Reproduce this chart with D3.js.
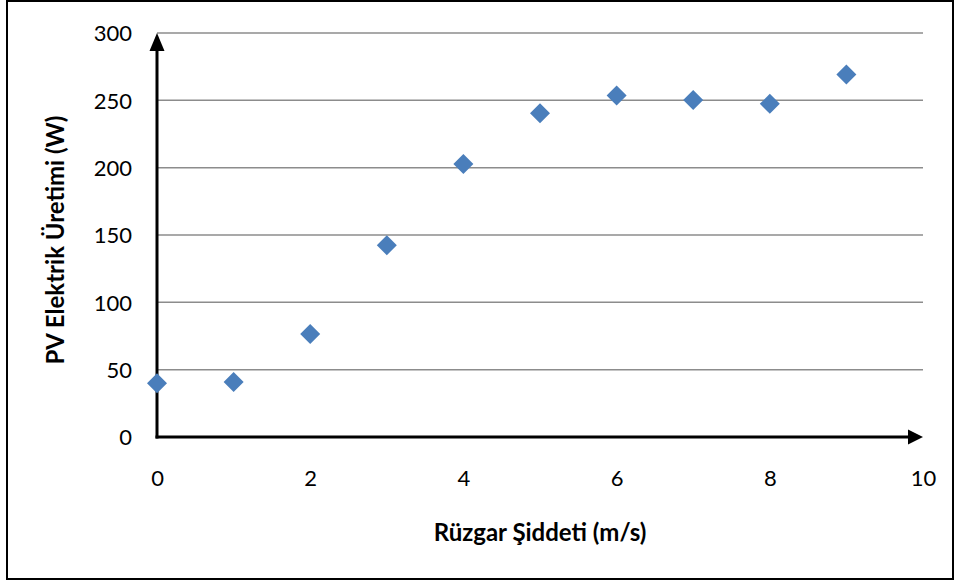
<!DOCTYPE html>
<html>
<head>
<meta charset="utf-8">
<script src="https://cdn.jsdelivr.net/npm/d3@7"></script>
<style>
  body { margin: 0; background: #fff; }
  text { font-family: Lato, "Open Sans", sans-serif; fill: #000; }
</style>
</head>
<body>
<script>
var width = 955;
var height = 581;
var margin = {top: 33, right: 32, bottom: 144, left: 157};
var w = width - margin.left - margin.right;
var h = height - margin.top - margin.bottom;

// wind speed (m/s) and PV output (W)
var windSpeed = [0, 1, 2, 3, 4, 5, 6, 7, 8, 9];
var pvOutput = [40, 40.8, 76.5, 142.3, 202.8, 240.5, 253.6, 250.3, 247.4, 269.2];
var xTicks = [0, 2, 4, 6, 8, 10];
var yTicks = [0, 50, 100, 150, 200, 250, 300];

var svg = d3.select("body").append("svg")
    .attr("width", width)
    .attr("height", height);

// outer frame
svg.append("rect")
    .attr("x", 7).attr("y", 1)
    .attr("width", 946).attr("height", 578)
    .attr("fill", "none")
    .attr("stroke", "#000")
    .attr("stroke-width", 2);

var chart = svg.append("g")
    .attr("transform", "translate(" + margin.left + "," + margin.top + ")");

var x = d3.scaleLinear().domain([0, 10]).range([0, w]);
var y = d3.scaleLinear().domain([0, 300]).range([h, 0]);

// gridlines
chart.selectAll(".grid")
    .data(yTicks.filter(function(d) { return d > 0; }))
  .enter().append("line")
    .attr("class", "grid")
    .attr("x1", 0).attr("x2", w)
    .attr("y1", function(d) { return y(d); })
    .attr("y2", function(d) { return y(d); })
    .attr("stroke", "#8c8c8c")
    .attr("stroke-width", 1.5);

var xAxis = d3.axisBottom(x).tickValues(xTicks).tickSize(0).tickPadding(42);
var yAxis = d3.axisLeft(y).tickValues(yTicks).tickSize(0).tickPadding(25);

chart.append("g")
    .attr("class", "x axis")
    .attr("transform", "translate(0," + h + ")")
    .call(xAxis)
    .call(function(g) { g.select(".domain").remove(); })
    .selectAll("text")
    .attr("dy", "0.3em")
    .style("font-size", "22px");

chart.append("g")
    .attr("class", "y axis")
    .call(yAxis)
    .call(function(g) { g.select(".domain").remove(); })
    .selectAll("text")
    .attr("dy", "0.35em")
    .style("font-size", "22px");

// axis lines with arrows
chart.append("line")
    .attr("x1", -1.5).attr("x2", w - 14)
    .attr("y1", h).attr("y2", h)
    .attr("stroke", "#000").attr("stroke-width", 3);
chart.append("path")
    .attr("d", "M" + (w - 15) + "," + (h - 7.5) + "L" + w + "," + h + "L" + (w - 15) + "," + (h + 7.5) + "Z")
    .attr("fill", "#000");

chart.append("line")
    .attr("x1", 0).attr("x2", 0)
    .attr("y1", h + 1.5).attr("y2", 17)
    .attr("stroke", "#000").attr("stroke-width", 3);
chart.append("path")
    .attr("d", "M-7.5,18L0,0L7.5,18Z")
    .attr("fill", "#000");

// diamonds
chart.selectAll(".pt")
    .data(windSpeed)
  .enter().append("path")
    .attr("class", "pt")
    .attr("transform", function(d, i) {
      return "translate(" + x(d) + "," + y(pvOutput[i]) + ")";
    })
    .attr("d", "M0,-10L10,0L0,10L-10,0Z")
    .attr("fill", "#4a7ebb");

// axis titles
svg.append("text")
    .attr("x", 540)
    .attr("y", 541)
    .attr("text-anchor", "middle")
    .style("font-size", "24px")
    .style("font-weight", "bold")
    .text("Rüzgar Şiddeti (m/s)");

svg.append("text")
    .attr("transform", "translate(64," + 240 + ") rotate(-90)")
    .attr("text-anchor", "middle")
    .style("font-size", "24px")
    .style("font-weight", "bold")
    .text("PV Elektrik Üretimi (W)");
</script>
</body>
</html>
